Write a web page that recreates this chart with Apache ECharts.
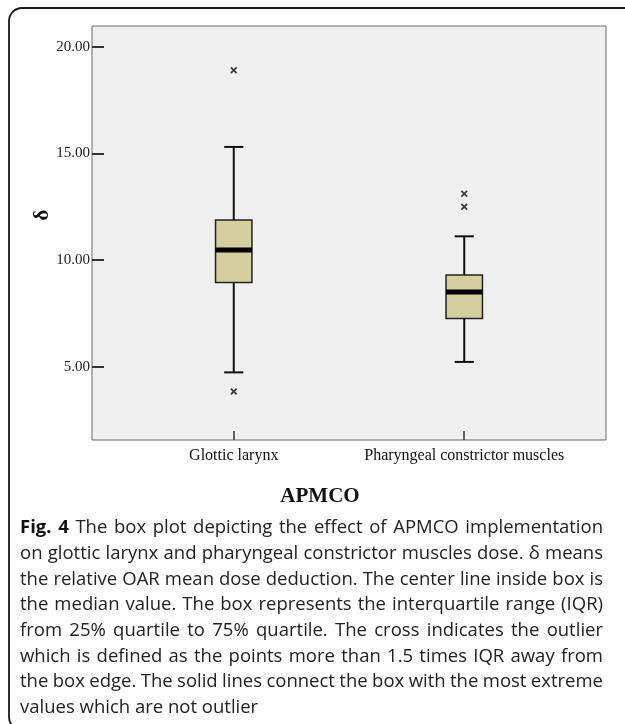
<!DOCTYPE html>
<html><head><meta charset="utf-8">
<script src="https://cdn.jsdelivr.net/npm/echarts@6/dist/echarts.min.js"></script>
<style>html,body{margin:0;padding:0;background:#fff;overflow:hidden}#c{width:625px;height:724px}</style>
</head><body><div id="c"></div>
<script>
// ---- data ----
const categories = ['Glottic larynx', 'Pharyngeal constrictor muscles'];
const catPositions = [1, 2];
const whiskerLow = [4.73, 5.22];
const q1 = [8.94, 7.26];
const median = [10.47, 8.50];
const q3 = [11.87, 9.30];
const whiskerHigh = [15.30, 11.11];
const outlierCat = [0, 0, 1, 1];
const outlierVal = [18.89, 3.83, 13.11, 12.50];
const yTicks = [5, 10, 15, 20];
const yLabel = 'δ';
const xTitle = 'APMCO';
const captionBold = 'Fig. 4';
const captionLines = [
  'The box plot depicting the effect of APMCO implementation',
  'on glottic larynx and pharyngeal constrictor muscles dose. δ means',
  'the relative OAR mean dose deduction. The center line inside box is',
  'the median value. The box represents the interquartile range (IQR)',
  'from 25% quartile to 75% quartile. The cross indicates the outlier',
  'which is defined as the points more than 1.5 times IQR away from',
  'the box edge. The solid lines connect the box with the most extreme',
  'values which are not outlier'
];

const boxData = categories.map((c, i) => [catPositions[i], whiskerLow[i], q1[i], median[i], q3[i], whiskerHigh[i]]);
const outlierData = outlierVal.map((v, i) => [catPositions[outlierCat[i]], v]);

const chart = echarts.init(document.getElementById('c'), null, {renderer: 'canvas'});
const serif = '"Liberation Serif", "Times New Roman", serif';
const sansName = '"Open Sans", "Noto Sans", sans-serif';
const capSize = 18.5;
const capLH = 25.7;
const capLeft = 20, capRight = 603, capFirstY = 528;

// justified caption, one text element per word
const mctx = document.createElement('canvas').getContext('2d');
function measure(t, bold) {
  mctx.font = (bold ? 'bold ' : '') + capSize + 'px ' + sansName;
  return mctx.measureText(t).width;
}
const captionEls = [];
captionLines.forEach((line, li) => {
  let tokens = line.split(' ').map(t => ({t: t, b: false}));
  if (li === 0) tokens = captionBold.split(' ').map(t => ({t: t, b: true})).concat(tokens);
  const widths = tokens.map(k => measure(k.t, k.b));
  const total = widths.reduce((a, b) => a + b, 0);
  const last = li === captionLines.length - 1;
  const gap = last ? measure(' ', false) : (capRight - capLeft - total) / (tokens.length - 1);
  let x = capLeft;
  const y = capFirstY + li * capLH;
  tokens.forEach((k, i) => {
    captionEls.push({
      type: 'text', x: x, y: y,
      style: {text: k.t, font: (k.b ? 'bold ' : '') + capSize + 'px ' + sansName,
        fill: k.b ? '#111' : '#222', verticalAlign: 'middle', align: 'left'}
    });
    x += widths[i] + gap;
  });
});

chart.setOption({
  animation: false,
  grid: {
    left: 92, right: 19, top: 26, bottom: 284,
    show: true, backgroundColor: '#efefef', borderColor: '#6a6a6a', borderWidth: 1,
    outerBoundsMode: 'none'
  },
  xAxis: {
    type: 'value', min: 0.385, max: 2.615,
    axisLine: {show: false},
    splitLine: {show: false},
    axisTick: {show: true, inside: true, length: 9, customValues: catPositions, lineStyle: {color: '#333', width: 1.5}},
    axisLabel: {
      customValues: catPositions, margin: 8,
      formatter: v => categories[catPositions.indexOf(Math.round(v))] || '',
      fontFamily: serif, fontSize: 16, color: '#111'
    }
  },
  yAxis: {
    type: 'value', min: 1.56, max: 20.97,
    axisLine: {show: false},
    splitLine: {show: false},
    axisTick: {show: true, inside: true, length: 12, customValues: yTicks, lineStyle: {color: '#333', width: 2}},
    axisLabel: {
      customValues: yTicks, margin: 2,
      formatter: v => v.toFixed(2),
      fontFamily: serif, fontSize: 15, color: '#222'
    }
  },
  series: [
    {
      type: 'custom',
      data: boxData,
      encode: {x: 0, y: [1, 2, 3, 4, 5]},
      renderItem: function (params, api) {
        const x = api.value(0);
        const lo = api.coord([x, api.value(1)]);
        const b1 = api.coord([x, api.value(2)]);
        const md = api.coord([x, api.value(3)]);
        const b3 = api.coord([x, api.value(4)]);
        const hi = api.coord([x, api.value(5)]);
        const boxW = api.size([0.158, 0])[0];
        const capW = api.size([0.083, 0])[0];
        const cx = lo[0];
        const stroke = {stroke: '#111', lineWidth: 2};
        return {
          type: 'group',
          children: [
            {type: 'line', shape: {x1: cx, y1: hi[1], x2: cx, y2: b3[1]}, style: stroke},
            {type: 'line', shape: {x1: cx, y1: b1[1], x2: cx, y2: lo[1]}, style: stroke},
            {type: 'line', shape: {x1: cx - capW / 2, y1: hi[1], x2: cx + capW / 2, y2: hi[1]}, style: stroke},
            {type: 'line', shape: {x1: cx - capW / 2, y1: lo[1], x2: cx + capW / 2, y2: lo[1]}, style: stroke},
            {type: 'rect', shape: {x: cx - boxW / 2, y: b3[1], width: boxW, height: b1[1] - b3[1]},
              style: {fill: '#d5cf9f', stroke: '#222', lineWidth: 1.5}},
            {type: 'line', shape: {x1: cx - boxW / 2, y1: md[1], x2: cx + boxW / 2, y2: md[1]},
              style: {stroke: '#000', lineWidth: 5}}
          ]
        };
      }
    },
    {
      type: 'scatter',
      data: outlierData,
      symbol: 'path://M0,1.8L1.8,0L5,3.2L8.2,0L10,1.8L6.8,5L10,8.2L8.2,10L5,6.8L1.8,10L0,8.2L3.2,5Z',
      symbolSize: 7,
      itemStyle: {color: '#111'}
    }
  ],
  graphic: [
    {type: 'rect', shape: {x: 9, y: 8, width: 720, height: 722, r: 13},
      style: {fill: 'none', stroke: '#1a1a1a', lineWidth: 1.8}, z: 10},
    {type: 'text', x: 43, y: 215, rotation: Math.PI / 2,
      style: {text: yLabel, font: 'bold 21px ' + serif, fill: '#111', align: 'center', verticalAlign: 'middle'}},
    {type: 'text', x: 320, y: 497,
      style: {text: xTitle, font: 'bold 21px ' + serif, fill: '#111', align: 'center', verticalAlign: 'middle'}}
  ].concat(captionEls)
});
</script>
</body></html>
